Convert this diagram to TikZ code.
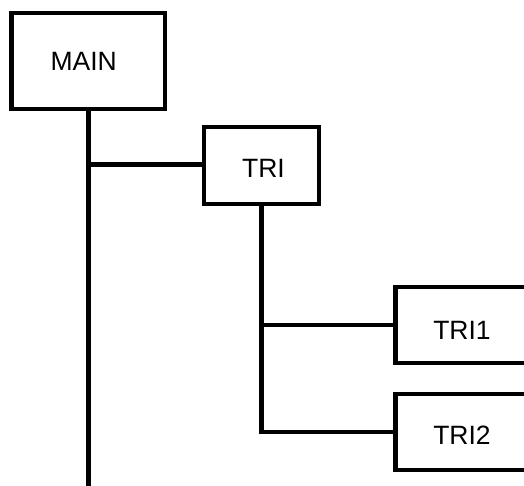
\documentclass[tikz,border=0pt]{standalone}
\usepackage{fontspec}
\setmainfont{Liberation Sans}
\begin{document}
\begin{tikzpicture}[x=1pt,y=-1pt,
  box/.style={draw=black,line width=4.8pt,fill=white,inner sep=0pt,
    font=\fontsize{26.5}{30}\selectfont,text depth=0pt},
  wire/.style={draw=black,line width=4.8pt,line join=miter}]
\useasboundingbox (0,0) rectangle (524,486);
\clip (0,0) rectangle (524,486);
\node[box,minimum width=153.5pt,minimum height=96pt,text height=19pt] (main) at (88.25,61) {\hspace*{-9pt}MAIN};
\node[box,minimum width=115pt,minimum height=77pt,text height=23.4pt] (tri) at (261.5,165.5) {\hspace*{4pt}TRI};
\node[box,minimum width=133pt,minimum height=76pt,text height=28.4pt] (tri1) at (462,325) {TRI1};
\node[box,minimum width=133pt,minimum height=76pt,text height=25pt] (tri2) at (462,432) {TRI2};
\coordinate (mainend) at (88.25,492);
\coordinate (j1) at (88.25,164.5);
\draw[wire] (main.south) -- (mainend);
\draw[wire] (j1) -- (j1 -| tri.west);
\draw[wire] (tri.south) |- (tri2.west);
\draw[wire] (tri.south |- tri1.west) -- (tri1.west);
\end{tikzpicture}
\end{document}
